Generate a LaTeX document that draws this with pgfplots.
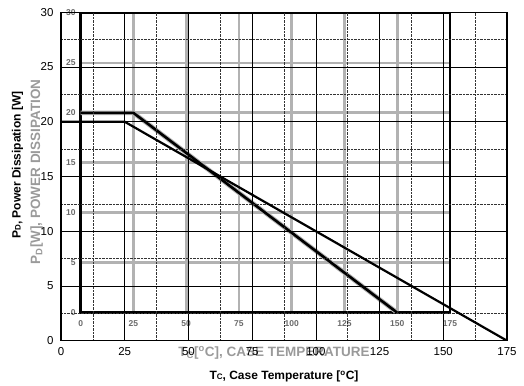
\documentclass[border=0pt]{standalone}
\usepackage{fontspec}
\setmainfont{Liberation Sans}
\usepackage{pgfplots}
\pgfplotsset{compat=1.18}
\definecolor{scan}{HTML}{9A9A9A}
\definecolor{scandig}{HTML}{6A6A6A}
\begin{document}
\begin{tikzpicture}[x=1pt,y=1pt]
\useasboundingbox (0,0) rectangle (524,385);
% faded labels of the scanned inner chart
\node[rotate=90, text=scan, font=\fontsize{13.5}{15}\selectfont\bfseries] at (36.7,213) {P\textsubscript{D}[W], POWER DISSIPATION};
\node[text=scan, font=\fontsize{13.5}{15}\selectfont\bfseries] at (274,32) {T\textsubscript{C}[\textsuperscript{o}C], CASE TEMPERATURE};
% inner (scanned) chart
\begin{axis}[at={(80.7pt,72.3pt)}, anchor=south west, scale only axis,
  width=369.3pt, height=299.7pt,
  xmin=0, xmax=175, ymin=0, ymax=30,
  xtick={0,25,...,175}, ytick={0,5,...,30},
  grid=major, major grid style={gray!60, line width=2.8pt},
  axis line style={black, line width=2.6pt},
  tick style={draw=none},
  tick label style={font=\fontsize{8.5}{9}\selectfont\bfseries, text=scandig},
  xticklabel style={yshift=-4.5pt},
  yticklabel style={xshift=-1.5pt},
  /pgf/number format/assume math mode=true]
\addplot[gray!60, line width=4.6pt] coordinates {(0,20) (25,20) (150,0)};
\addplot[black, line width=2.6pt] coordinates {(0,20) (25,20) (150,0)};
\end{axis}
% outer chart
\begin{axis}[at={(61pt,44.3pt)}, anchor=south west, scale only axis,
  width=446pt, height=328.4pt,
  xmin=0, xmax=175, ymin=0, ymax=30,
  xtick={0,25,...,175}, ytick={0,5,...,30},
  minor xtick={12.5,37.5,...,162.5}, minor ytick={2.5,7.5,...,27.5},
  grid=both,
  major grid style={black, line width=0.7pt},
  minor grid style={black!80, densely dotted, line width=0.6pt},
  axis line style={black, line width=1.3pt},
  tick style={draw=none},
  tick label style={font=\fontsize{11.5}{13}\selectfont},
  xticklabel style={yshift=-3pt},
  yticklabel style={xshift=-4pt},
  /pgf/number format/assume math mode=true]
\addplot[black, line width=2.2pt] coordinates {(0,20) (25,20) (175,0)};
\end{axis}
\node[rotate=90, font=\fontsize{12}{14}\selectfont\bfseries] at (17.5,220) {P{\footnotesize D}, Power Dissipation [W]};
\node[font=\fontsize{12}{14}\selectfont\bfseries] at (284,8.3) {T{\footnotesize C}, Case Temperature [\textsuperscript{o}C]};
\end{tikzpicture}
\end{document}
